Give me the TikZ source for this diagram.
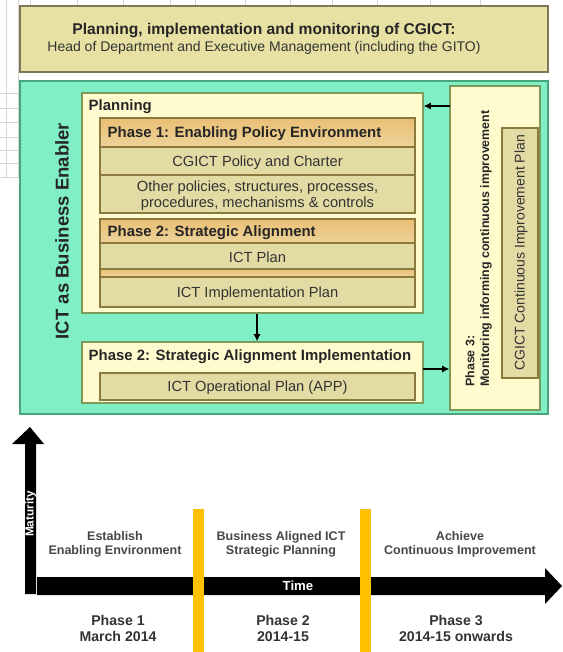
\documentclass[tikz,border=0pt]{standalone}
\usepackage{fontspec}
\setmainfont{Liberation Sans}
\usetikzlibrary{arrows.meta,fit,shadows}
\definecolor{khaki}{HTML}{E7E1A3}
\definecolor{khakiline}{HTML}{7E7858}
\definecolor{mint}{HTML}{80EFC6}
\definecolor{mintline}{HTML}{4AA47C}
\definecolor{cream}{HTML}{FFFBCE}
\definecolor{creamline}{HTML}{7C9A5A}
\definecolor{rowfill}{HTML}{E3DBA4}
\definecolor{rowline}{HTML}{8B7A3E}
\definecolor{headtop}{HTML}{EABF74}
\definecolor{headbot}{HTML}{EDD39A}
\definecolor{amber}{HTML}{FFC000}
\definecolor{gridgray}{HTML}{D6D6D6}
\definecolor{darktext}{HTML}{333333}
\begin{document}
\begin{tikzpicture}[x=0.75pt,y=-0.75pt,
  area/.style={fit={#1}, inner sep=0pt},
  topbox/.style={draw=khakiline, fill=khaki, line width=1.2pt,
    drop shadow={shadow xshift=1pt, shadow yshift=-1pt, opacity=0.35}},
  greenbox/.style={draw=mintline, fill=mint, line width=1.2pt,
    drop shadow={shadow xshift=1pt, shadow yshift=-1pt, opacity=0.3}},
  creambox/.style={draw=creamline, fill=cream, line width=0.9pt},
  rowbox/.style={draw=rowline, fill=rowfill, line width=0.8pt},
  rowtext/.style={text=darktext, font=\fontsize{11}{12}\selectfont, align=center, yshift=-1pt},
  headbox/.style={draw=rowline, top color=headtop, bottom color=headbot,
    line width=0.8pt},
  headtext/.style={font=\bfseries\fontsize{11.2}{13}\selectfont, text=black!85, anchor=west, yshift=-1pt},
  arr/.style={-{Latex[length=5.5pt,width=5.5pt]}, line width=1.4pt},
  phase/.style={font=\bfseries\fontsize{10.6}{12}\selectfont, text=darktext, align=center},
  era/.style={font=\bfseries\fontsize{9.4}{10.5}\selectfont, text=darktext!90, align=center},
  bar/.style={fill=amber, draw=none}
]
\useasboundingbox (0,0) rectangle (562,652);

% faint spreadsheet grid behind the diagram
\begin{scope}[gridgray, line width=0.4pt]
  \draw (6,0) -- (6,178);
  \foreach \yy in {93,108,122,137,150,163,177}
    \draw (0,\yy) -- (18,\yy);
  \foreach \xx in {30,77,123,170,195,245,290,332,377,430,480}
    \draw (\xx,0) -- (\xx,5);
  \draw (18,0) -- (18,178);
\end{scope}

% header band
\node[topbox, area={(20,6) (548,72)}] (gov) {};
\node[font=\bfseries\fontsize{11.7}{13}\selectfont, text=black!85] (govt) at (264,31)
  {Planning, implementation and monitoring of CGICT:};
\node[font=\fontsize{10.5}{12}\selectfont, text=darktext] (govs) at (264,48)
  {Head of Department and Executive Management (including the GITO)};

% enabler panel
\node[greenbox, area={(20,81) (548,414)}] (enabler) {};
\node[rotate=90, font=\bfseries\fontsize{13.9}{15}\selectfont, text=black!85] (enablert) at (62,231)
  {ICT as Business Enabler};

% planning block
\node[creambox, area={(82,93) (423,313)}] (plan) {};
\node[headtext] (plant) at (84,105) {Planning};

\node[headbox, area={(100,118) (415,147)}] (ph1) {};
\node[headtext] (ph1t) at (103,132) {Phase 1: Enabling Policy Environment};
\node[rowbox, area={(100,147) (415,175)}] (policy) {};
\node[rowtext] at (policy.center) {CGICT Policy and Charter};
\node[rowbox, area={(100,175) (415,213)}] (other) {};
\node[rowtext] at (other.center)
  {Other policies, structures, processes,\\procedures, mechanisms \& controls};

\node[headbox, area={(100,219) (415,243)}] (ph2) {};
\node[headtext] (ph2t) at (103,231) {Phase 2: Strategic Alignment};
\node[rowbox, area={(100,243) (415,269)}] (ictplan) {};
\node[rowtext] at (ictplan.center) {ICT Plan};
\node[headbox, area={(100,269) (415,277)}] (strip) {};
\node[rowbox, area={(100,277) (415,307)}] (implplan) {};
\node[rowtext] at (implplan.center) {ICT Implementation Plan};

% implementation block
\node[creambox, area={(82,342) (423,403)}] (impl) {};
\node[headtext] (implt) at (84,355) {Phase 2: Strategic Alignment Implementation};
\node[rowbox, area={(100,373) (415,400)}] (ops) {};
\node[rowtext] at (ops.center) {ICT Operational Plan (APP)};

% monitoring column
\node[creambox, area={(450,86) (540,410)}] (mon) {};
\node[rotate=90, anchor=north west, align=left, inner sep=0pt,
  font=\bfseries\fontsize{9.3}{11.2}\selectfont, text=black!85] (mont) at (465,387)
  {Phase 3:\\Monitoring informing continuous improvement};
\node[rowbox, area={(502,128) (538,378)}] (cip) {};
\node[rotate=90, font=\fontsize{10.5}{12}\selectfont, text=darktext] (cipt) at (521,253)
  {CGICT Continuous Improvement Plan};

% flows between blocks
\coordinate (fb) at (450,106);
\coordinate (ff) at (423,369);
\draw[arr] (fb) -- (fb -| plan.east);
\draw[arr] ([xshift=3.4pt]plan.south) -- ([xshift=3.4pt]impl.north);
\draw[arr] (ff) -- (ff -| mon.west);

% maturity axis
\fill[black] (25,594) -- (25,444) -- (12,444) -- (30,427) -- (44,444) -- (36,444) -- (36,594) -- cycle;
\node[rotate=90, font=\bfseries\fontsize{8.8}{10}\selectfont, text=white] (mat) at (30.5,514) {Maturity};

% time axis
\fill[black] (37,577) -- (545,577) -- (545,568) -- (562,586) -- (545,604) -- (545,595) -- (37,595) -- cycle;
\node[font=\bfseries\fontsize{9.9}{11}\selectfont, text=white] (time) at (298,586) {Time};

% phase dividers
\fill[bar] (193,509) rectangle (204,652);
\fill[bar] (360,509) rectangle (371,652);

% stage captions
\node[era] (e1) at (115,544) {Establish\\Enabling Environment};
\node[era] (e2) at (281,544) {Business Aligned ICT\\Strategic Planning};
\node[era] (e3) at (460,544) {Achieve\\Continuous Improvement};

\node[phase] (p1) at (118,628) {Phase 1\\March 2014};
\node[phase] (p2) at (283,628) {Phase 2\\2014-15};
\node[phase] (p3) at (456,628) {Phase 3\\2014-15 onwards};
\end{tikzpicture}
\end{document}
